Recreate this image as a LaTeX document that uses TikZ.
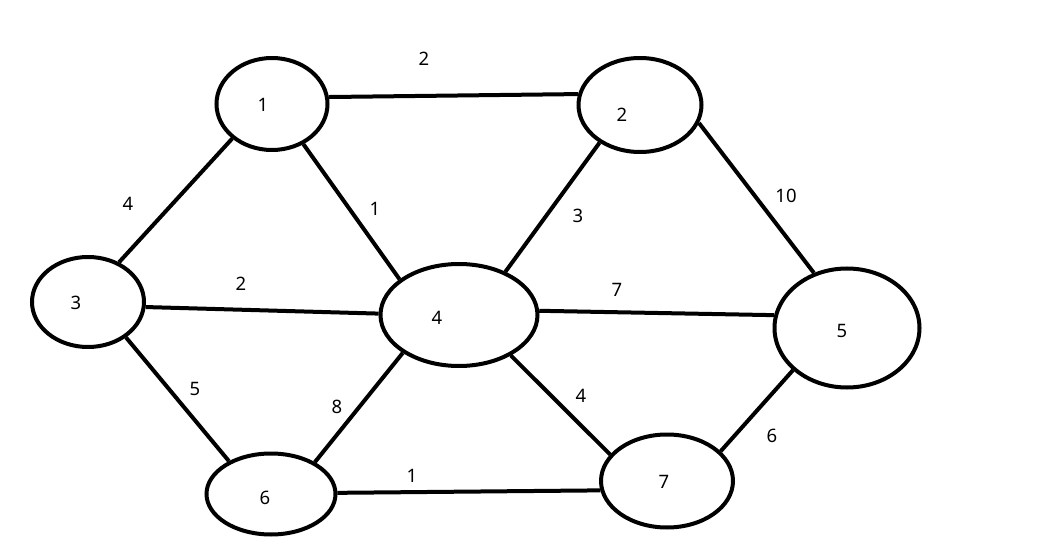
\documentclass[tikz,border=0pt]{standalone}
\usepackage{fontspec}
\setmainfont{Noto Sans}
\usetikzlibrary{shapes.geometric}
\begin{document}
\begin{tikzpicture}[x=1pt,y=-1pt,
  vert/.style={draw=black,line width=4pt,ellipse,inner sep=0pt,fill=white},
  lbl/.style={font=\fontsize{18.5}{20}\selectfont,inner sep=0pt,text height=13.5pt,text depth=0pt,anchor=center},
  edge/.style={line width=4pt,black}]
\useasboundingbox (0,0) rectangle (1045,540);
\fill[white] (0,0) rectangle (1045,540);
% vertices
\node[vert,minimum width=111pt,minimum height=92pt] (n1) at (272,104) {};
\node[vert,minimum width=123pt,minimum height=94pt] (n2) at (640,105) {};
\node[vert,minimum width=112pt,minimum height=90pt] (n3) at (88,302) {};
\node[vert,minimum width=157pt,minimum height=102pt] (n4) at (459,315) {};
\node[vert,minimum width=145pt,minimum height=119pt] (n5) at (847,328) {};
\node[vert,minimum width=129pt,minimum height=81pt] (n6) at (271,494) {};
\node[vert,minimum width=132pt,minimum height=93pt] (n7) at (667,481) {};
% vertex labels
\node[lbl] (t1) at (263,105) {1};
\node[lbl] (t2) at (622,115) {2};
\node[lbl] (t3) at (76,303) {3};
\node[lbl] (t4) at (437,318) {4};
\node[lbl] (t5) at (842,331) {5};
\node[lbl] (t6) at (265,498) {6};
\node[lbl] (t7) at (664,482) {7};
% edges
\draw[edge] (n1.7) -- (n2.170);
\draw[edge] (n1.221) -- (n3.52);
\draw[edge] (n1.308) -- (n4.149);
\draw[edge] (n2.223) -- (n4.43);
\draw[edge] (n2.343) -- (n5.121);
\draw[edge] (n3.355) -- (n4.179);
\draw[edge] (n4.3.5) -- (n5.170.5);
\draw[edge] (n3.317) -- (n6.142);
\draw[edge] (n4.214) -- (n6.36);
\draw[edge] (n4.322) -- (n7.155);
\draw[edge] (n6.1) -- (n7.188);
\draw[edge] (n7.29) -- (n5.218);
% edge weights
\node[lbl] (w12) at (424,59) {2};
\node[lbl] (w13) at (128,204) {4};
\node[lbl] (w14) at (375,209) {1};
\node[lbl] (w24) at (578,216) {3};
\node[lbl] (w25) at (786,196) {10};
\node[lbl] (w34) at (241,284) {2};
\node[lbl] (w45) at (617,290) {7};
\node[lbl] (w36) at (195,389) {5};
\node[lbl] (w46) at (337,407) {8};
\node[lbl] (w47) at (581,396) {4};
\node[lbl] (w75) at (772,436) {6};
\node[lbl] (w67) at (412,476) {1};
\end{tikzpicture}
\end{document}
